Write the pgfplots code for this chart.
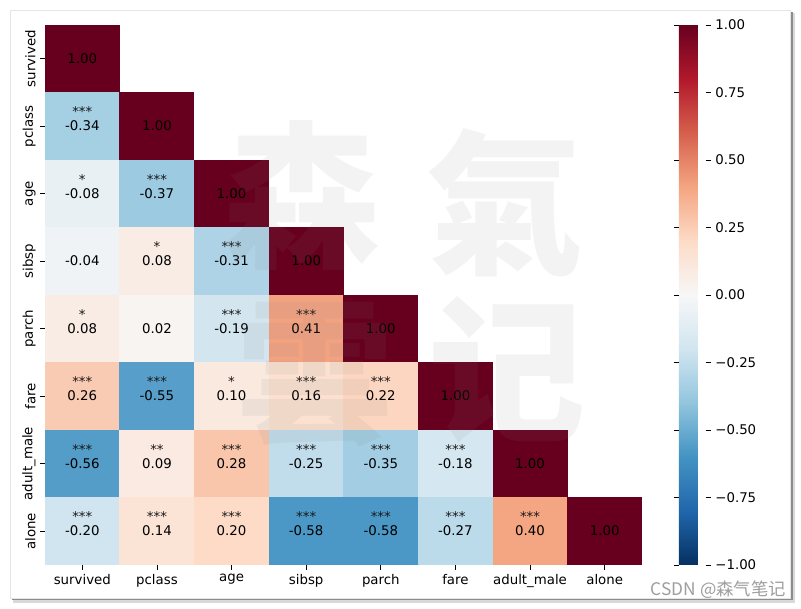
\documentclass[border=0pt]{standalone}
\usepackage{pgfplots}
\pgfplotsset{compat=1.18}
\usepackage{pgfplotstable}
\usepackage{fontspec}
\setmainfont{DejaVu Sans}
\newfontfamily\cjk{Noto Sans CJK SC}
\pgfdeclareplotmark{cell}{\pgfpathrectangle{\pgfpoint{-28.09pt}{-25.42pt}}{\pgfpoint{56.18pt}{50.84pt}}\pgfusepathqfill}
\pgfplotstableread{
x y c st
0 7 1.00 {}
0 6 -0.34 ***
1 6 1.00 {}
0 5 -0.08 *
1 5 -0.37 ***
2 5 1.00 {}
0 4 -0.04 {}
1 4 0.08 *
2 4 -0.31 ***
3 4 1.00 {}
0 3 0.08 *
1 3 0.02 {}
2 3 -0.19 ***
3 3 0.41 ***
4 3 1.00 {}
0 2 0.26 ***
1 2 -0.55 ***
2 2 0.10 *
3 2 0.16 ***
4 2 0.22 ***
5 2 1.00 {}
0 1 -0.56 ***
1 1 0.09 **
2 1 0.28 ***
3 1 -0.25 ***
4 1 -0.35 ***
5 1 -0.18 ***
6 1 1.00 {}
0 0 -0.20 ***
1 0 0.14 ***
2 0 0.20 ***
3 0 -0.58 ***
4 0 -0.58 ***
5 0 -0.27 ***
6 0 0.40 ***
7 0 1.00 {}
}\corr
\begin{document}
\begin{tikzpicture}
\begin{scope}[x=0.75pt,y=-0.75pt]
\path[use as bounding box] (0,0) rectangle (801,609);
\fill[black!15] (13,13) rectangle (795,603);
\fill[black!45] (12,12) rectangle (792.5,600.5);
\filldraw[fill=white, draw=black!10] (10,10) rectangle (790,598);
\end{scope}
\begin{axis}[
  at={(33.75pt,-18.75pt)}, anchor=north west,
  scale only axis, width=447.75pt, height=405pt,
  xmin=-0.5, xmax=7.5, ymin=-0.5, ymax=7.5,
  clip=false,
  axis x line*=bottom, axis y line*=left,
  axis line style={draw=none},
  tick align=outside, major tick length=3.5pt,
  tick style={black, line width=0.6pt},
  xtick={0,1,2,3,4,5,6,7}, ytick={0,1,2,3,4,5,6,7},
  xticklabels={survived,pclass,age,sibsp,parch,fare,adult\_male,alone},
  yticklabels={alone,adult\_male,fare,parch,sibsp,age,pclass,survived},
  ticklabel style={font=\fontsize{10}{12}\selectfont},
  yticklabel style={rotate=90, anchor=south},
  /pgf/number format/assume math mode=true,
  colormap={rdbu}{rgb255=(5,48,97) rgb255=(33,102,172) rgb255=(67,147,195) rgb255=(146,197,222) rgb255=(209,229,240) rgb255=(247,247,247) rgb255=(253,219,199) rgb255=(244,165,130) rgb255=(214,96,77) rgb255=(178,24,43) rgb255=(103,0,31)},
  point meta min=-1, point meta max=1,
  colorbar,
  colorbar shift/.style={xshift=27.75pt},
  colorbar style={
    at={(parent axis.north east)}, anchor=north west,
    scale only axis, width=20.25pt, height=405pt,
    axis line style={draw=none},
    tick align=outside, major tick length=3.5pt,
    tick style={black, line width=0.6pt},
    ytick={-1,-0.75,-0.5,-0.25,0,0.25,0.5,0.75,1},
    yticklabels={−1.00,−0.75,−0.50,−0.25,0.00,0.25,0.50,0.75,1.00},
    yticklabel style={font=\fontsize{10}{12}\selectfont},
  },
]
\addplot[scatter, only marks, mark=cell, scatter/use mapped color={draw=none, fill=mapped color}, point meta=\thisrow{c}] table[x=x, y=y] {\corr};
\addplot[draw=none, nodes near coords, point meta=explicit symbolic,
  every node near coord/.append style={font=\fontsize{10}{12}\selectfont, anchor=base, yshift=-3.4pt, inner sep=0pt, text=black}]
  table[x=x, y=y, meta=c] {\corr};
\addplot[draw=none, nodes near coords, point meta=explicit symbolic,
  every node near coord/.append style={font=\fontsize{10}{12}\selectfont, anchor=base, yshift=7.3pt, inner sep=0pt, text=black!90}]
  table[x=x, y=y, meta=st] {\corr};
\end{axis}
\begin{scope}[x=0.75pt,y=-0.75pt]
\begin{scope}[opacity=0.09]
\node[font=\cjk\bfseries\fontsize{118}{120}\selectfont, text=black!50] at (302,195) {森};
\node[font=\cjk\bfseries\fontsize{118}{120}\selectfont, text=black!50] at (505,203) {氣};
\node[font=\cjk\bfseries\fontsize{118}{120}\selectfont, text=black!50] at (315,375) {雲};
\node[font=\cjk\bfseries\fontsize{118}{120}\selectfont, text=black!50] at (507,370) {记};
\end{scope}
\node[anchor=base east, inner sep=0pt, font=\cjk\fontsize{13}{15}\selectfont, text=black!38] at (786,596) {CSDN @森气笔记};
\end{scope}
\end{tikzpicture}
\end{document}
